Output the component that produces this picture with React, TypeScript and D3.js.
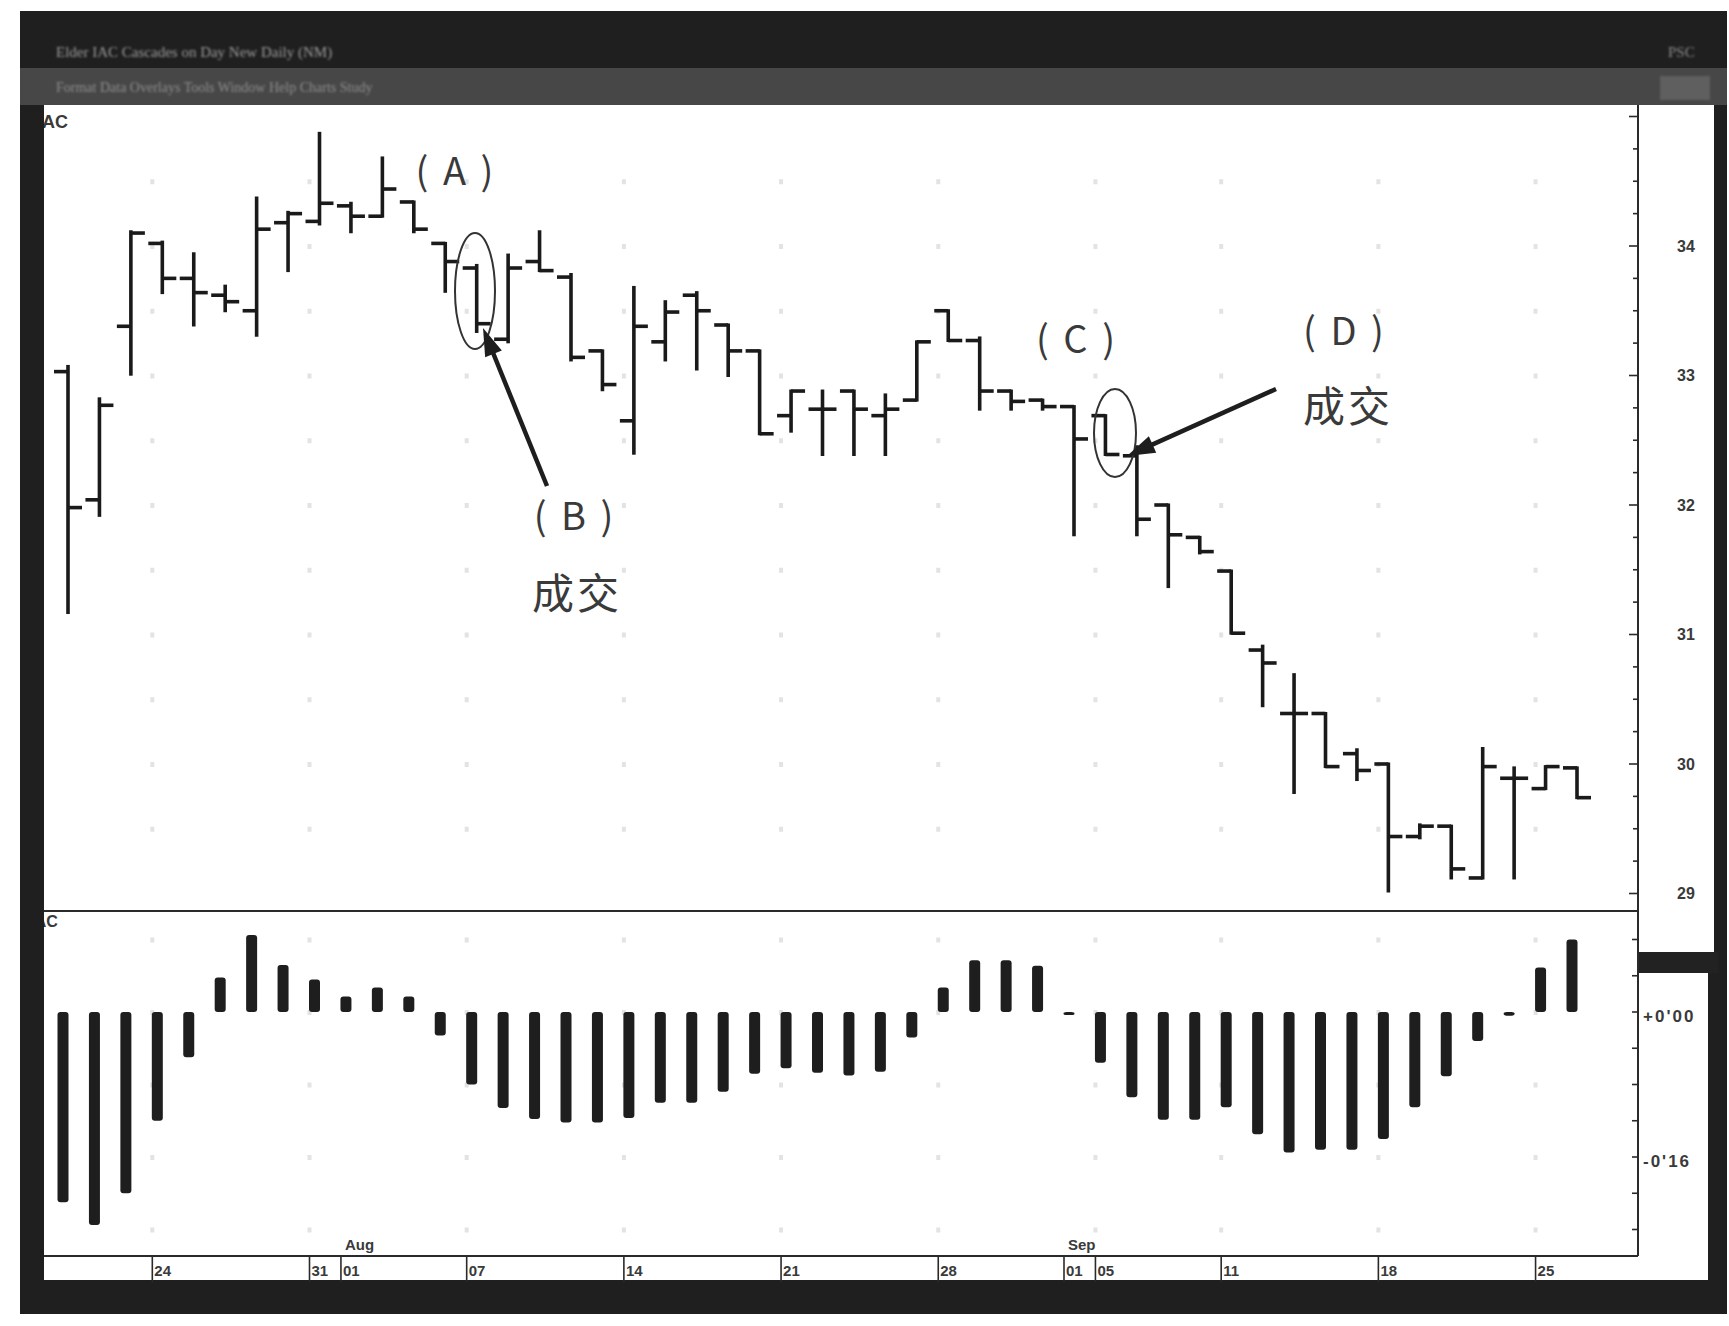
import React, { useRef, useEffect } from 'react';
import * as d3 from 'd3';

const W = 1729;
const H = 1326;

// trading days, Jul 19 - Sep 26 (2000)
const days = [
    '07-19', '07-20', '07-21', '07-24', '07-25', '07-26', '07-27', '07-28', '07-31',
    '08-01', '08-02', '08-03', '08-04', '08-07', '08-08', '08-09', '08-10', '08-11',
    '08-14', '08-15', '08-16', '08-17', '08-18', '08-21', '08-22', '08-23', '08-24', '08-25',
    '08-28', '08-29', '08-30', '08-31', '09-01', '09-05', '09-06', '09-07', '09-08',
    '09-11', '09-12', '09-13', '09-14', '09-15', '09-18', '09-19', '09-20', '09-21', '09-22',
    '09-25', '09-26',
];

const opens = [
    33.03, 32.04, 33.38, 34.02, 33.75, 33.62, 33.50, 34.18, 34.19,
    34.31, 34.23, 34.34, 34.02, 33.83, 33.28, 33.88, 33.76, 33.19,
    32.65, 33.26, 33.62, 33.39, 33.19, 32.69, 32.74, 32.88, 32.69, 32.81,
    33.50, 33.27, 32.88, 32.81, 32.76, 32.69, 32.38, 32.00, 31.75,
    31.49, 30.88, 30.39, 30.39, 30.08, 30.00, 29.44, 29.52, 29.12, 29.89,
    29.81, 29.97,
];
const highs = [
    33.07, 32.82, 34.11, 34.03, 33.94, 33.69, 34.37, 34.26, 34.87,
    34.33, 34.68, 34.34, 34.02, 33.85, 33.93, 34.11, 33.78, 33.19,
    33.68, 33.57, 33.64, 33.39, 33.19, 32.88, 32.88, 32.88, 32.85, 33.26,
    33.50, 33.29, 32.88, 32.81, 32.76, 32.69, 32.45, 32.00, 31.75,
    31.49, 30.91, 30.69, 30.39, 30.11, 30.00, 29.53, 29.52, 30.12, 29.97,
    29.98, 29.97,
];
const lows = [
    31.17, 31.92, 33.01, 33.64, 33.39, 33.50, 33.31, 33.81, 34.17,
    34.11, 34.23, 34.11, 33.65, 33.34, 33.26, 33.81, 33.12, 32.89,
    32.40, 33.12, 33.05, 33.00, 32.55, 32.57, 32.39, 32.39, 32.39, 32.81,
    33.27, 32.74, 32.74, 32.74, 31.77, 32.39, 31.77, 31.37, 31.63,
    31.01, 30.45, 29.78, 29.98, 29.88, 29.02, 29.43, 29.12, 29.12, 29.12,
    29.81, 29.74,
];
const closes = [
    31.98, 32.77, 34.10, 33.75, 33.64, 33.57, 34.13, 34.25, 34.33,
    34.23, 34.44, 34.13, 33.88, 33.40, 33.83, 33.81, 33.14, 32.93,
    33.38, 33.49, 33.50, 33.19, 32.55, 32.88, 32.74, 32.74, 32.74, 33.26,
    33.27, 32.88, 32.80, 32.76, 32.51, 32.39, 31.89, 31.77, 31.64,
    31.01, 30.78, 30.39, 29.98, 29.95, 29.44, 29.52, 29.19, 29.98, 29.89,
    29.98, 29.74,
];

// lower panel histogram
const hist = [
    -0.21, -0.235, -0.2, -0.12, -0.05, 0.038, 0.085, 0.052, 0.036,
    0.017, 0.027, 0.017, -0.026, -0.08, -0.106, -0.118, -0.122, -0.122,
    -0.117, -0.1, -0.1, -0.088, -0.068, -0.062, -0.067, -0.07, -0.066, -0.028,
    0.027, 0.057, 0.057, 0.051, -0.003, -0.056, -0.094, -0.119, -0.119,
    -0.105, -0.135, -0.155, -0.152, -0.152, -0.14, -0.105, -0.071, -0.032, -0.004,
    0.049, 0.08,
];

const priceTicks = [29, 30, 31, 32, 33, 34];
const histTicks = [0, -0.16];
const histTickLabels = ["+0'00", "-0'16"];
const dateTicks = ['07-24', '07-31', '08-01', '08-07', '08-14', '08-21', '08-28', '09-01', '09-05', '09-11', '09-18', '09-25'];
const monthDays = ['08-01', '09-01'];
const monthLabels = ['Aug', 'Sep'];

const ANN = '"Noto Sans CJK SC", "Noto Sans", sans-serif';
const NARROW = '"Liberation Sans Narrow", "Liberation Sans", Arial, sans-serif';

const arrow = (
    g: d3.Selection<SVGGElement, unknown, null, undefined>,
    x1: number, y1: number, x2: number, y2: number
) => {
    const len = Math.hypot(x2 - x1, y2 - y1);
    const ux = (x2 - x1) / len, uy = (y2 - y1) / len;
    const hl = 28, hw = 9;
    const bx = x2 - ux * hl, by = y2 - uy * hl;
    g.append('line')
        .attr('x1', x1).attr('y1', y1).attr('x2', bx + ux * 4).attr('y2', by + uy * 4)
        .attr('stroke', '#1e1e1e').attr('stroke-width', 4.5);
    g.append('polygon')
        .attr('points', `${x2},${y2} ${bx - uy * hw},${by + ux * hw} ${bx + uy * hw},${by - ux * hw}`)
        .attr('fill', '#1e1e1e');
};

const createChart = (svg: d3.Selection<SVGSVGElement, unknown, null, undefined>): void => {
    svg.selectAll('*').remove();

    const x = d3.scalePoint<string>().domain(days).range([68, 1577]);
    const y = d3.scaleLinear().domain([29, 34]).range([893.5, 246]);
    const yh = d3.scaleLinear().domain([-0.16, 0]).range([1157, 1012]);

    const defs = svg.append('defs');
    defs.append('filter').attr('id', 'soft')
        .append('feGaussianBlur').attr('stdDeviation', 1.3);

    // page + window frame
    svg.append('rect').attr('width', W).attr('height', H).attr('fill', '#ffffff');
    svg.append('rect').attr('x', 20).attr('y', 11).attr('width', 1707).attr('height', 1303).attr('fill', '#1f1f1f');
    svg.append('rect').attr('x', 20).attr('y', 68).attr('width', 1707).attr('height', 37).attr('fill', '#474747');

    svg.append('text')
        .attr('x', 56).attr('y', 57)
        .attr('fill', '#9a9a9a').attr('font-size', 15).attr('font-family', 'serif')
        .attr('filter', 'url(#soft)')
        .text('Elder  IAC   Cascades  on Day New Daily  (NM)');
    svg.append('text')
        .attr('x', 1668).attr('y', 57)
        .attr('fill', '#8a8a8a').attr('font-size', 15).attr('font-family', 'serif')
        .attr('filter', 'url(#soft)')
        .text('PSC');
    svg.append('text')
        .attr('x', 56).attr('y', 92)
        .attr('fill', '#8c8c8c').attr('font-size', 14).attr('font-family', 'serif')
        .attr('filter', 'url(#soft)')
        .text('Format  Data  Overlays  Tools  Window   Help   Charts   Study');
    svg.append('rect').attr('x', 1660).attr('y', 76).attr('width', 50).attr('height', 24)
        .attr('fill', '#5e5e5e').attr('filter', 'url(#soft)');

    // white chart area
    svg.append('rect').attr('x', 44).attr('y', 105).attr('width', 1670).attr('height', 1175).attr('fill', '#ffffff');
    svg.append('rect').attr('x', 1708).attr('y', 952).attr('width', 19).attr('height', 362).attr('fill', '#1f1f1f');
    svg.append('rect').attr('x', 1638).attr('y', 952).attr('width', 80).attr('height', 21).attr('fill', '#222');

    // faint dotted grid
    const grid = svg.append('g').attr('fill', '#e3e3e3');
    const gridCols = dateTicks.filter(d => d !== '08-01' && d !== '09-01').map(d => x(d)! - 10);
    const priceRows = d3.range(29.5, 35, 0.5);
    gridCols.forEach(cx => {
        priceRows.forEach(p => {
            grid.append('rect').attr('x', cx - 2).attr('y', y(p) - 2).attr('width', 4).attr('height', 5);
        });
        [0.08, 0, -0.08, -0.16, -0.24].forEach(v => {
            grid.append('rect').attr('x', cx - 2).attr('y', yh(v) - 2).attr('width', 4).attr('height', 5);
        });
    });

    // price bars
    const bars = svg.append('g').attr('stroke', '#1a1a1a').attr('stroke-width', 3.6);
    bars.selectAll('.hl')
        .data(days)
        .enter().append('line')
        .attr('class', 'hl')
        .attr('x1', d => x(d)!).attr('x2', d => x(d)!)
        .attr('y1', (d, i) => y(highs[i]) - 1.5)
        .attr('y2', (d, i) => y(lows[i]) + 1.5);
    bars.selectAll('.op')
        .data(days)
        .enter().append('line')
        .attr('class', 'op')
        .attr('x1', d => x(d)! - 14).attr('x2', d => x(d)!)
        .attr('y1', (d, i) => y(opens[i])).attr('y2', (d, i) => y(opens[i]));
    bars.selectAll('.cl')
        .data(days)
        .enter().append('line')
        .attr('class', 'cl')
        .attr('x1', d => x(d)!).attr('x2', d => x(d)! + 14)
        .attr('y1', (d, i) => y(closes[i])).attr('y2', (d, i) => y(closes[i]));

    // histogram
    svg.append('g').selectAll('.hb')
        .data(hist)
        .enter().append('rect')
        .attr('class', 'hb')
        .attr('x', (v, i) => x(days[i])! - 5 - 5.5)
        .attr('width', 11)
        .attr('y', v => Math.min(yh(v), yh(0)))
        .attr('height', v => Math.max(3, Math.abs(yh(v) - yh(0))))
        .attr('rx', 3)
        .attr('fill', '#1e1e1e');

    // panel separator + axes
    const axis = svg.append('g').attr('stroke', '#2a2a2a');
    axis.append('line').attr('x1', 44).attr('x2', 1638).attr('y1', 911).attr('y2', 911).attr('stroke-width', 2.2);
    axis.append('line').attr('x1', 1638).attr('x2', 1638).attr('y1', 105).attr('y2', 1256).attr('stroke-width', 2);
    axis.append('line').attr('x1', 44).attr('x2', 1638).attr('y1', 1256).attr('y2', 1256).attr('stroke-width', 2.2);

    // right axis ticks
    d3.range(28.75, 35.01, 0.25).filter(v => y(v) > 108 && y(v) < 908).forEach(v => {
        const len = Math.abs(v - Math.round(v)) < 0.01 ? 9 : 5;
        axis.append('line').attr('x1', 1638 - len).attr('x2', 1638)
            .attr('y1', y(v)).attr('y2', y(v)).attr('stroke-width', 1.6);
    });
    d3.range(-0.28, 0.13, 0.04).filter(v => yh(v) > 914 && yh(v) < 1253).forEach(v => {
        axis.append('line').attr('x1', 1632).attr('x2', 1638)
            .attr('y1', yh(v)).attr('y2', yh(v)).attr('stroke-width', 1.6);
    });

    const labels = svg.append('g').attr('fill', '#3a3a3a').attr('font-family', NARROW).attr('font-weight', 'bold');
    labels.selectAll('.pt')
        .data(priceTicks)
        .enter().append('text')
        .attr('class', 'pt')
        .attr('x', 1686).attr('y', d => y(d))
        .attr('text-anchor', 'middle').attr('dominant-baseline', 'central')
        .attr('font-size', 16)
        .text(d => String(d));
    labels.selectAll('.ht')
        .data(histTicks)
        .enter().append('text')
        .attr('class', 'ht')
        .attr('x', 1643).attr('y', d => yh(d) + 4)
        .attr('dominant-baseline', 'central')
        .attr('font-size', 17)
        .attr('letter-spacing', 2)
        .text((d, i) => histTickLabels[i]);

    // date axis
    dateTicks.forEach(d => {
        const tx = x(d)! - 10;
        axis.append('line').attr('x1', tx).attr('x2', tx).attr('y1', 1256).attr('y2', 1284).attr('stroke-width', 1.6);
        labels.append('text')
            .attr('x', tx + 2).attr('y', 1276)
            .attr('font-size', 15)
            .text(d.slice(3));
    });
    monthDays.forEach((d, i) => {
        labels.append('text')
            .attr('x', x(d)! - 6).attr('y', 1250)
            .attr('font-size', 15)
            .text(monthLabels[i]);
    });

    // panel names
    labels.append('text').attr('x', 30).attr('y', 128).attr('font-size', 18).attr('font-family', 'Arial, sans-serif').text('XAC');
    labels.append('text').attr('x', 24).attr('y', 927).attr('font-size', 16).attr('font-family', 'Arial, sans-serif').text('XAC');

    // annotations
    const ann = svg.append('g');
    ann.append('ellipse').attr('cx', 475).attr('cy', 291).attr('rx', 20).attr('ry', 58)
        .attr('fill', 'none').attr('stroke', '#333').attr('stroke-width', 2);
    ann.append('ellipse').attr('cx', 1115).attr('cy', 433).attr('rx', 21).attr('ry', 44)
        .attr('fill', 'none').attr('stroke', '#333').attr('stroke-width', 2);
    arrow(ann, 547, 486, 483, 328);
    arrow(ann, 1276, 389, 1127, 456);

    const notes = [
        { t: '( A )', cx: 456, cy: 168, s: 38 },
        { t: '( B )', cx: 575, cy: 513, s: 38 },
        { t: '成交', cx: 577, cy: 590, s: 42 },
        { t: '( C )', cx: 1077, cy: 336, s: 38 },
        { t: '( D )', cx: 1345, cy: 328, s: 38 },
        { t: '成交', cx: 1348, cy: 403, s: 42 },
    ];
    ann.selectAll('.note')
        .data(notes)
        .enter().append('text')
        .attr('class', 'note')
        .attr('x', d => d.cx).attr('y', d => d.cy)
        .attr('text-anchor', 'middle').attr('dominant-baseline', 'central')
        .attr('font-family', ANN).attr('font-size', d => d.s)
        .attr('letter-spacing', 3)
        .attr('fill', '#3a3a3a')
        .text(d => d.t);

    // left border over the clipped panel names
    svg.append('rect').attr('x', 20).attr('y', 105).attr('width', 24).attr('height', 1209).attr('fill', '#1f1f1f');
    svg.append('rect').attr('x', 20).attr('y', 1282).attr('width', 1707).attr('height', 32).attr('fill', '#1f1f1f');
};

const App: React.FC = () => {
    const ref = useRef<SVGSVGElement>(null);

    useEffect(() => {
        if (ref.current) {
            createChart(d3.select(ref.current));
        }
    }, []);

    return (
        <svg
            ref={ref}
            width={W}
            height={H}
            style={{ position: 'absolute', left: 0, top: 0 }}
        />
    );
};

export default App;
